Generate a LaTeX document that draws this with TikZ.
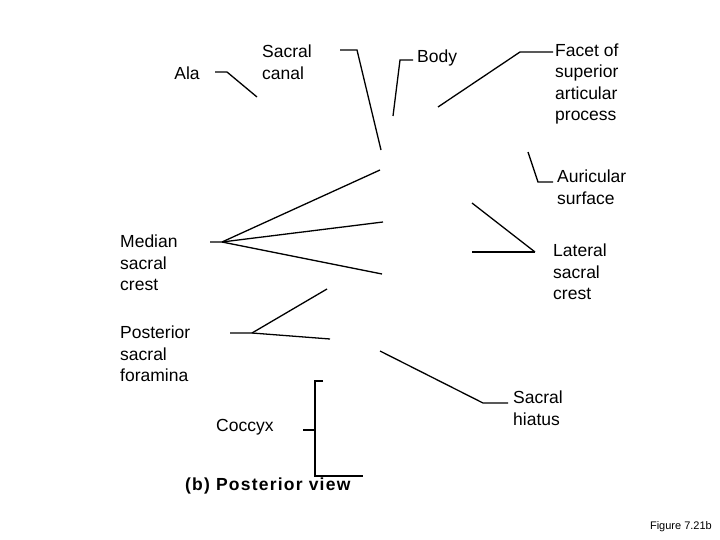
\documentclass[tikz,border=0pt]{standalone}
\usepackage{fontspec}
\setmainfont{Liberation Sans}
\begin{document}
\begin{tikzpicture}[x=1pt,y=-1pt,
  lbl/.style={font=\fontsize{17.5}{21.5}\selectfont,align=left,inner sep=0pt},
  ld/.style={line width=1.3pt}]
\useasboundingbox (0,0) rectangle (720,540);
\node[lbl,anchor=center] (ala) at (187,73) {Ala};
\node[lbl,anchor=west] (canal) at (262,62) {Sacral\\canal};
\node[lbl,anchor=west] (body) at (417,58) {Body};
\node[lbl,anchor=west] (facet) at (555,84) {Facet of\\superior\\articular\\process};
\node[lbl,anchor=west] (aur) at (557,187) {Auricular\\surface};
\node[lbl,anchor=west] (lat) at (553,272) {Lateral\\sacral\\crest};
\node[lbl,anchor=west] (med) at (120,263) {Median\\sacral\\crest};
\node[lbl,anchor=west] (post) at (120,354) {Posterior\\sacral\\foramina};
\node[lbl,anchor=west] (hia) at (513,408) {Sacral\\hiatus};
\node[lbl,anchor=west] (coc) at (216,427) {Coccyx};
\node[lbl,anchor=west,font=\bfseries\fontsize{17.5}{20}\selectfont\addfontfeature{LetterSpace=7}] (cap) at (185,486) {(b) Posterior view};
\node[lbl,anchor=east,font=\fontsize{11}{12}\selectfont] (fig) at (712,527) {Figure 7.21b};
\coordinate (mc) at (222,242);
\coordinate (pc) at (252,333);
\draw[ld] (215,72) -- (227,72) -- (257,97);
\draw[ld] (340,50) -- (357,50) -- (381,150);
\draw[ld] (413,60) -- (400,60) -- (393,116);
\draw[ld] (553,52) -- (520,52) -- (438,107);
\draw[ld] (528,152) -- (538,182) -- (553,182);
\draw[ld] (472,203) -- (535,252);
\draw[ld] (472,252) -- (535,252);
\draw[ld] (210,242) -- (mc) -- (380,170);
\draw[ld] (mc) -- (383,222);
\draw[ld] (mc) -- (382,274);
\draw[ld] (230,333) -- (pc) -- (327,289);
\draw[ld] (pc) -- (330,339);
\draw[ld] (380,351) -- (483,403) -- (508,403);
\draw[ld] (303,430) -- (315,430);
\draw[ld] (323,381) -- (315,381) -- (315,476) -- (363,476);
\end{tikzpicture}
\end{document}
